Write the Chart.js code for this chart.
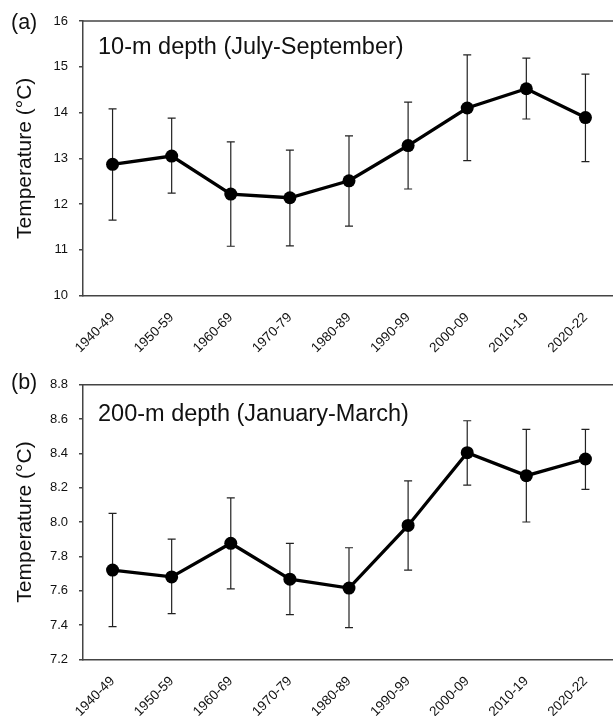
<!DOCTYPE html>
<html>
<head>
<meta charset="utf-8">
<script src="https://cdn.jsdelivr.net/npm/chart.js@4/dist/chart.umd.min.js"></script>
<style>
  body { margin: 0; background: #fff; overflow: hidden; width: 613px; }
  canvas { display: block; }
</style>
</head>
<body>
<canvas id="chartA" width="615" height="358"></canvas>
<canvas id="chartB" width="615" height="358"></canvas>
<script>
// decades on the x axis
var decades = ['1940-49', '1950-59', '1960-69', '1970-79', '1980-89', '1990-99', '2000-09', '2010-19', '2020-22'];

// (a) 10-m depth, July-September
var temp10 = [12.87, 13.05, 12.22, 12.14, 12.51, 13.28, 14.10, 14.52, 13.89];
var temp10Hi = [14.08, 13.88, 13.36, 13.18, 13.49, 14.23, 15.26, 15.19, 14.84];
var temp10Lo = [11.65, 12.24, 11.08, 11.09, 11.52, 12.33, 12.95, 13.86, 12.93];

// (b) 200-m depth, January-March
var temp200 = [7.72, 7.68, 7.876, 7.667, 7.615, 7.98, 8.404, 8.27, 8.367];
var temp200Hi = [8.05, 7.90, 8.14, 7.876, 7.85, 8.24, 8.59, 8.54, 8.54];
var temp200Lo = [7.39, 7.466, 7.61, 7.46, 7.384, 7.72, 8.215, 8.00, 8.19];

var axisColor = '#444';
var fontName = '"Liberation Sans", Arial, sans-serif';

// error bars + top frame line + panel texts
var extrasPlugin = {
    id: 'extras',
    beforeDatasetsDraw: function (chart) {
        var opts = chart.options.plugins.extras;
        var ctx = chart.ctx;
        var xs = chart.scales.x, ys = chart.scales.y;
        ctx.save();
        ctx.strokeStyle = '#222';
        ctx.lineWidth = 1.2;
        opts.hi.forEach(function (hi, i) {
            var x = xs.getPixelForValue(i);
            var yTop = ys.getPixelForValue(hi);
            var yBot = ys.getPixelForValue(opts.lo[i]);
            ctx.beginPath();
            ctx.moveTo(x, yTop);
            ctx.lineTo(x, yBot);
            ctx.moveTo(x - 4, yTop);
            ctx.lineTo(x + 4, yTop);
            ctx.moveTo(x - 4, yBot);
            ctx.lineTo(x + 4, yBot);
            ctx.stroke();
        });
        ctx.restore();
    },
    afterDraw: function (chart) {
        var opts = chart.options.plugins.extras;
        var ctx = chart.ctx;
        var area = chart.chartArea;
        ctx.save();
        ctx.strokeStyle = axisColor;
        ctx.lineWidth = 1.5;
        ctx.beginPath();
        ctx.moveTo(area.left, area.top);
        ctx.lineTo(area.right, area.top);
        ctx.stroke();
        ctx.fillStyle = '#111';
        ctx.textBaseline = 'alphabetic';
        ctx.font = '21.5px ' + fontName;
        ctx.fillText(opts.panel, 11, opts.panelY);
        ctx.font = '23.5px ' + fontName;
        ctx.fillText(opts.note, 98, opts.noteY);
        ctx.restore();
    }
};

function makeChart(id, values, hi, lo, yMin, yMax, step, digits, top, bottom, panel, panelY, note, noteY) {
    var canvas = document.getElementById(id);
    return new Chart(canvas, {
        type: 'line',
        data: {
            labels: decades,
            datasets: [{
                data: values,
                borderColor: '#000',
                backgroundColor: '#000',
                borderWidth: 3.3,
                pointRadius: 6.5,
                pointBackgroundColor: '#000',
                pointBorderWidth: 0,
                tension: 0
            }]
        },
        options: {
            responsive: false,
            animation: false,
            layout: { autoPadding: false, padding: { top: top, left: 0, right: 0, bottom: 0 } },
            plugins: {
                legend: { display: false },
                tooltip: { enabled: false },
                extras: { hi: hi, lo: lo, panel: panel, panelY: panelY, note: note, noteY: noteY }
            },
            scales: {
                x: {
                    type: 'category',
                    offset: true,
                    grid: { display: false, drawTicks: false },
                    border: { display: true, color: axisColor, width: 1.5 },
                    ticks: {
                        autoSkip: false,
                        maxRotation: 45,
                        minRotation: 45,
                        padding: 14,
                        color: '#111',
                        font: { family: fontName, size: 13.5 }
                    },
                    afterFit: function (scale) {
                        scale.height = canvas.height - bottom;
                        scale.paddingLeft = 0;
                        scale.paddingRight = 0;
                    }
                },
                y: {
                    min: yMin,
                    max: yMax,
                    grid: { drawOnChartArea: false, color: axisColor, tickLength: 4, lineWidth: 1.5 },
                    border: { display: true, color: axisColor, width: 1.5 },
                    ticks: {
                        stepSize: step,
                        padding: 11,
                        color: '#111',
                        font: { family: fontName, size: 13 },
                        callback: function (v) { return Number(v).toFixed(digits); }
                    },
                    title: {
                        display: true,
                        text: 'Temperature (°C)',
                        color: '#111',
                        font: { family: fontName, size: 21 },
                        padding: { top: 13, bottom: 0 }
                    },
                    afterFit: function (scale) { scale.width = 83; }
                }
            }
        },
        plugins: [extrasPlugin]
    });
}

makeChart('chartA', temp10, temp10Hi, temp10Lo, 10, 16, 1, 0, 21, 295.7, '(a)', 28.5, '10-m depth (July-September)', 53.5);
makeChart('chartB', temp200, temp200Hi, temp200Lo, 7.2, 8.8, 0.2, 1, 26.7, 301.3, '(b)', 31, '200-m depth (January-March)', 62.5);
</script>
</body>
</html>
